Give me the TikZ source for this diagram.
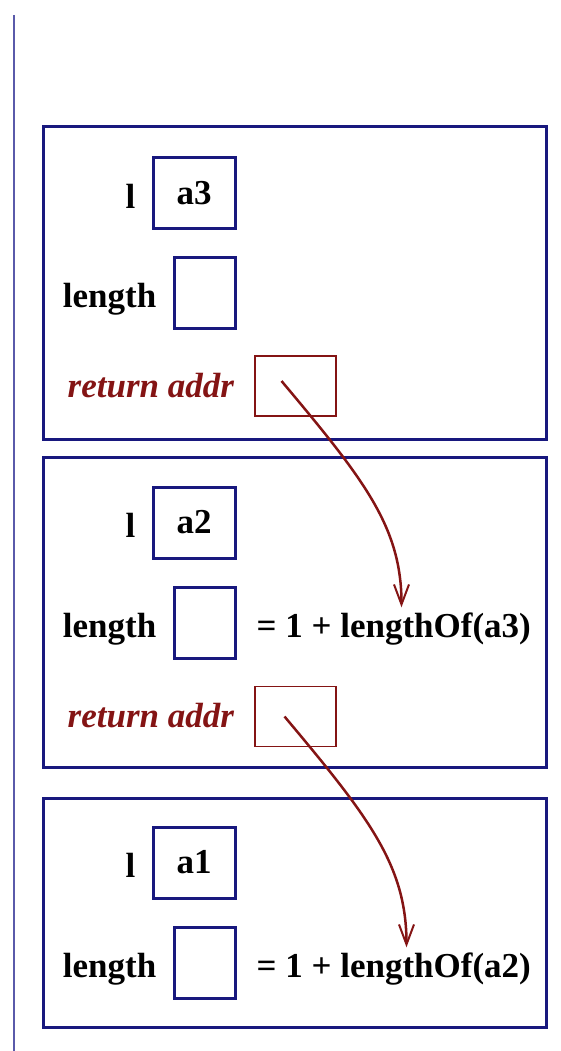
\documentclass[tikz,border=0pt]{standalone}
\usepackage{fontspec}
\setmainfont{Liberation Serif}
\usetikzlibrary{positioning,arrows.meta}
\definecolor{framenavy}{HTML}{18187E}
\definecolor{retred}{HTML}{841414}
\definecolor{railblue}{HTML}{5A5AAA}

\begin{document}
\begin{tikzpicture}[x=1pt,y=1pt,node distance=16pt,
    frame/.style={draw=framenavy,line width=3pt,minimum width=503pt,inner sep=0pt},
    cell/.style={draw=framenavy,line width=3pt,minimum height=71pt,inner sep=0pt,font=\fontsize{35}{40}\selectfont\bfseries},
    retcell/.style={draw=retred,line width=1.5pt,minimum width=81pt,minimum height=60pt,inner sep=0pt},
    lbl/.style={inner sep=0pt,text height=24pt,text depth=8pt,yshift=-7pt,font=\fontsize{35}{40}\selectfont\bfseries},
    retlbl/.style={inner sep=0pt,text height=24pt,text depth=8pt,yshift=-3pt,text=retred,font=\fontsize{35}{40}\selectfont\bfseries\itshape},
    call/.style={draw=retred,line width=2.5pt,-{Straight Barb[length=20pt,width=15pt,line width=2pt]}}]
  \useasboundingbox (0,0) rectangle (560,-1051);

  % left margin rule
  \coordinate (railtop) at (14,-15);
  \coordinate (railbot) at (14,-1051);
  \draw[railblue,line width=2pt] (railtop) -- (railbot);

  % frame for l = a3
  \node[frame,minimum height=312pt] (f3) at (294.5,-283) {};
  \node[cell,minimum width=82pt] (a3) at (194,-193) {a3};
  \node[cell,minimum width=61pt] (n3) at (204.5,-292.5) {};
  \node[retcell] (r3) at (295.5,-386) {};
  \node[lbl,left=of a3] (l3) {l};
  \node[lbl,left=of n3] (len3) {length};
  \node[retlbl,left=20pt of r3] (ret3) {return addr};

  % frame for l = a2
  \node[frame,minimum height=310pt] (f2) at (294.5,-612) {};
  \node[cell,minimum width=82pt] (a2) at (194,-522.5) {a2};
  \node[cell,minimum width=61pt] (n2) at (204.5,-622.5) {};
  \node[retcell] (r2) at (295.5,-716.5) {};
  \node[lbl,left=of a2] (l2) {l};
  \node[lbl,left=of n2] (len2) {length};
  \node[lbl,right=20pt of n2] (e2) {= 1 + lengthOf(a3)};
  \node[retlbl,left=20pt of r2] (ret2) {return addr};

  % frame for l = a1
  \node[frame,minimum height=229pt] (f1) at (294.5,-912.5) {};
  \node[cell,minimum width=82pt] (a1) at (194,-862.5) {a1};
  \node[cell,minimum width=61pt] (n1) at (204.5,-962.5) {};
  \node[lbl,left=of a1] (l1) {l};
  \node[lbl,left=of n1] (len1) {length};
  \node[lbl,right=20pt of n1] (e1) {= 1 + lengthOf(a2)};

  % return addresses
  \draw[call] ([shift={(-14pt,5pt)}]r3.center) to[out=-50,in=90,out looseness=1.3,in looseness=0.8] ([xshift=145pt,yshift=6pt]e2.north west);
  \draw[call] ([shift={(-11pt,0pt)}]r2.center) to[out=-50,in=90,out looseness=1.3,in looseness=0.8] ([xshift=150pt,yshift=6pt]e1.north west);
\end{tikzpicture}
\end{document}
